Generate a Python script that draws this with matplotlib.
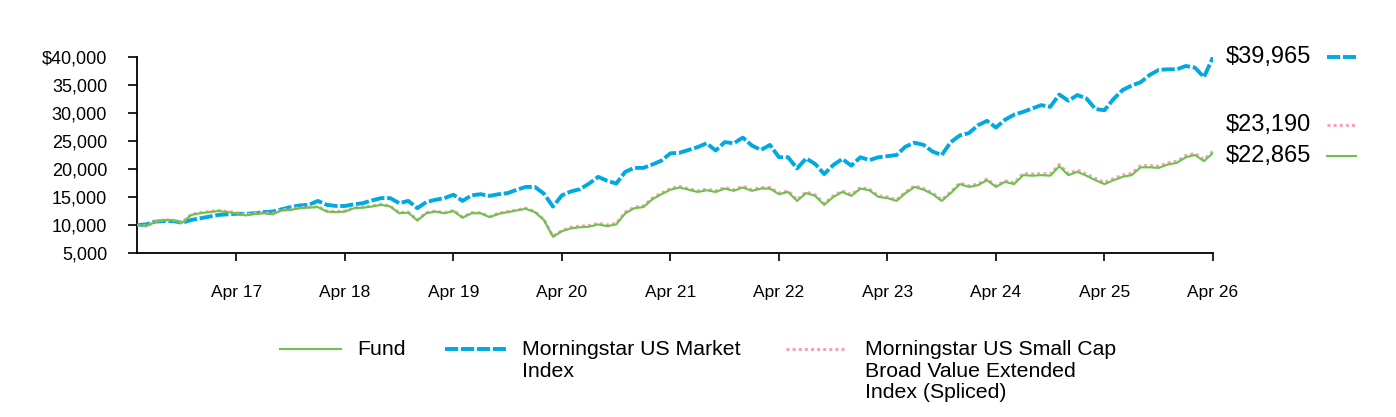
import matplotlib.pyplot as plt
from matplotlib.lines import Line2D
import numpy as np

plt.rcParams['font.family'] = ['Liberation Sans', 'DejaVu Sans']

# Monthly values, May 2016 (month 1) to Apr 2026 (month 120)
market = [10000, 10100, 10600, 10700, 10700, 10400, 10900, 11200,
          11500, 11800, 11900, 12000, 12000, 12100, 12300, 12400, 12800, 13200, 13500, 13600,
          14300, 13600, 13400, 13400, 13700, 13900, 14400, 14800, 14800, 13900, 14300, 13000,
          14100, 14500, 14800, 15400, 14300, 15300, 15500, 15200, 15500, 15700, 16300, 16800,
          16800, 15600, 13300, 15300, 16000, 16400, 17400, 18600, 17900, 17400, 19500, 20200,
          20200, 20800, 21500, 22800, 22900, 23400, 23900, 24600, 23300, 24800, 24600, 25600,
          24200, 23400, 24300, 22100, 22100, 20100, 21900, 20900, 19100, 20700, 21800, 20600,
          22100, 21600, 22100, 22300, 22500, 24000, 24700, 24300, 23100, 22500, 24800, 26000,
          26400, 27800, 28600, 27400, 28800, 29700, 30200, 30800, 31400, 31100, 33300, 32200,
          33200, 32600, 30700, 30500, 32500, 34100, 34900, 35500, 36800, 37700, 37800, 37800,
          38400, 38100, 36400, 39965]

fund = [10000, 9800, 10500, 10900, 10800, 10400, 11800, 12100,
        12300, 12500, 12300, 12100, 11700, 12000, 12100, 11900, 12600, 12700, 13000, 13100,
        13200, 12400, 12300, 12400, 13000, 13100, 13300, 13600, 13300, 12100, 12200, 10800,
        12100, 12400, 12100, 12500, 11300, 12100, 12100, 11400, 12000, 12300, 12600, 12900,
        12300, 10900, 7900, 8900, 9400, 9600, 9700, 10100, 9800, 10100, 12100, 13000,
        13200, 14600, 15500, 16300, 16700, 16300, 15900, 16200, 15900, 16500, 16100, 16700,
        16100, 16500, 16500, 15500, 15900, 14300, 15700, 15200, 13600, 15000, 15900, 15200,
        16500, 16200, 15000, 14800, 14300, 15700, 16800, 16300, 15500, 14300, 15700, 17300,
        16800, 17100, 18000, 16800, 17700, 17300, 18900, 18800, 18900, 18800, 20500, 18900,
        19500, 18800, 18000, 17300, 18000, 18600, 18900, 20300, 20300, 20200, 20800, 21100,
        22100, 22500, 21400, 22865]

small_cap = [10000, 9850, 10550, 10950, 10850, 10450, 11900, 12200,
             12400, 12600, 12400, 12200, 11800, 12100, 12200, 12000, 12700, 12800, 13100, 13200,
             13300, 12500, 12400, 12500, 13100, 13200, 13400, 13700, 13400, 12200, 12300, 10900,
             12200, 12500, 12200, 12600, 11400, 12200, 12200, 11500, 12100, 12400, 12700, 13000,
             12400, 11000, 8000, 9000, 9600, 9800, 9900, 10300, 10000, 10300, 12300, 13200,
             13400, 14800, 15700, 16500, 16900, 16500, 16100, 16400, 16100, 16700, 16300, 16900,
             16300, 16700, 16700, 15700, 16100, 14500, 15900, 15400, 13800, 15200, 16100, 15400,
             16700, 16400, 15200, 15000, 14500, 15900, 17000, 16500, 15700, 14500, 15900, 17500,
             17000, 17300, 18200, 17000, 17900, 17500, 19200, 19100, 19200, 19100, 20800, 19200,
             19800, 19100, 18300, 17600, 18300, 18900, 19200, 20600, 20600, 20500, 21100, 21400,
             22400, 22800, 21700, 23190]

tick_labels = ['Apr 17', 'Apr 18', 'Apr 19', 'Apr 20', 'Apr 21',
               'Apr 22', 'Apr 23', 'Apr 24', 'Apr 25', 'Apr 26']
end_labels = ['$39,965', '$23,190', '$22,865']
legend_labels = ['Fund', 'Morningstar US Market\nIndex',
                 'Morningstar US Small Cap\nBroad Value Extended\nIndex (Spliced)']

BLUE = '#00A9E0'
GREEN = '#6CC24A'
PINK = '#F5A3B7'

W, H = 1396, 417
fig = plt.figure(figsize=(W / 100, H / 100), dpi=100)
ax = fig.add_axes([137 / W, 1 - 253 / H, (1213 - 137) / W, (253 - 57) / H])

months = np.arange(1, len(fund) + 1)

ax.plot(months, market, color=BLUE, lw=2.8, dashes=(3.4, 0.7), zorder=2)
ax.plot(months, small_cap, color=PINK, lw=2.2, linestyle=(0, (1, 1)), zorder=3)
ax.plot(months, fund, color=GREEN, lw=1.5, zorder=4)

ax.set_xlim(1, 120)
ax.set_ylim(5000, 40000)
ax.set_xticks(np.arange(12, 121, 12))
ax.set_xticklabels(tick_labels)
yt = np.arange(5000, 40001, 5000)
ax.set_yticks(yt)
ax.set_yticklabels([('$' if v == 40000 else '') + f'{v:,}' for v in yt])

for s in ['top', 'right']:
    ax.spines[s].set_visible(False)
for s in ['left', 'bottom']:
    ax.spines[s].set_linewidth(1.3)
ax.tick_params(axis='y', length=6.5, width=1.2, pad=15, labelsize=13)
ax.tick_params(axis='x', length=6, width=1.2, pad=17, labelsize=12.5)

# end value labels with line samples
def px(x, y):
    return x / W, 1 - y / H

for lab, y, kw in [(end_labels[0], 57, dict(color=BLUE, lw=2.8, dashes=(3.4, 0.7))),
                   (end_labels[1], 125, dict(color=PINK, lw=2.2, linestyle=(0, (1, 1)))),
                   (end_labels[2], 156, dict(color=GREEN, lw=1.5))]:
    fig.text(*px(1226, y), lab, fontsize=17, va='center', ha='left')
    x0, y0 = px(1327, y)
    x1, _ = px(1356, y)
    fig.add_artist(Line2D([x0, x1], [y0, y0], transform=fig.transFigure, **kw))

# bottom legend
for lab, xs, xt, kw in [(legend_labels[0], 280, 357, dict(color=GREEN, lw=1.5)),
                        (legend_labels[1], 445, 522, dict(color=BLUE, lw=2.8, dashes=(3.4, 0.7))),
                        (legend_labels[2], 786, 865, dict(color=PINK, lw=2.2, linestyle=(0, (1, 1))))]:
    x0, y0 = px(xs, 349)
    x1, _ = px(xs + 61, 349)
    fig.add_artist(Line2D([x0, x1], [y0, y0], transform=fig.transFigure, **kw))
    fig.text(*px(xt, 340), lab, fontsize=15.3, va='top', ha='left', linespacing=1.17)

fig.savefig('out.png', dpi=100)
